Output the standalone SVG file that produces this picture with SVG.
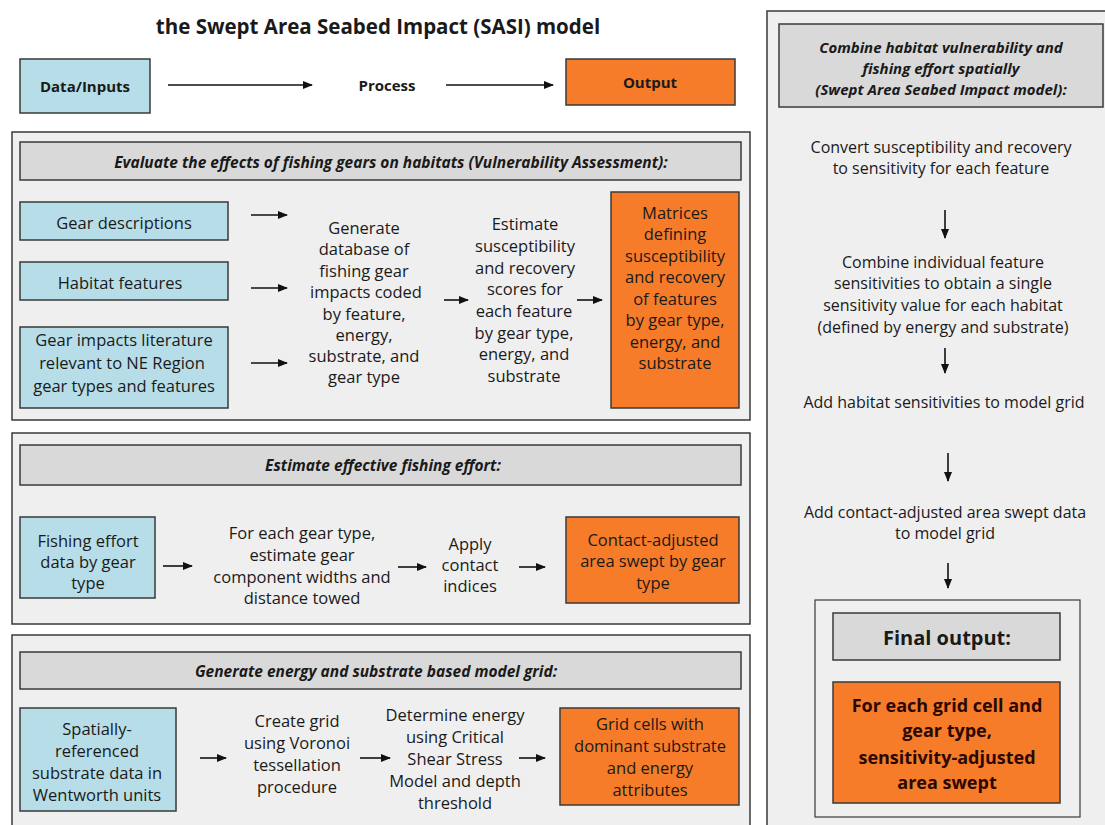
<svg xmlns="http://www.w3.org/2000/svg" width="1105" height="825" viewBox="0 0 1105 825">
<style>
text{font-family:"Open Sans","Liberation Sans",sans-serif;fill:#1a1a1a;text-anchor:middle;dominant-baseline:central}
.t{font-size:16.5px}
.r{font-size:16px}
.h{font-size:15.5px;font-weight:700;font-style:italic}
.b{font-weight:700}
.f{font-size:18px;font-weight:700;fill:#2a0800}
.panel{fill:#efefef;stroke:#3a3a3a;stroke-width:1.5}
.hdr{fill:#d9d9d9;stroke:#3a3a3a;stroke-width:1.5}
.in{fill:#b7dee8;stroke:#3a3a3a;stroke-width:1.5}
.out{fill:#f67c2a;stroke:#3a3a3a;stroke-width:1.5}
.frame{fill:#efefef;stroke:#3a3a3a;stroke-width:1.2}
.a{stroke:#111;stroke-width:1.6;fill:none;marker-end:url(#ah)}
</style>
<defs>
<marker id="ah" markerUnits="userSpaceOnUse" markerWidth="10" markerHeight="8" refX="9" refY="4" orient="auto">
<path d="M0,0 L10,4 L0,8 Z" fill="#111"/>
</marker>
</defs>
<rect width="1105" height="825" fill="#fff"/>

<text id="title" x="378" y="26" class="b" style="font-size:20.5px">the Swept Area Seabed Impact (SASI) model</text>

<g id="legend-data"><rect class="in" x="20" y="59" width="130" height="54"/><text x="85" y="86" class="b" style="font-size:15px">Data/Inputs</text></g>
<g id="legend-process"><text x="387" y="85" class="b" style="font-size:15px">Process</text></g>
<g id="legend-output"><rect class="out" x="566" y="59" width="169" height="46"/><text x="650" y="82" class="b" style="font-size:15px">Output</text></g>

<!-- Section 1 -->
<g id="section1"><rect class="panel" x="12" y="132" width="738" height="288"/>
<rect class="hdr" x="20" y="142" width="721" height="38"/>
<text x="391" y="162" class="h">Evaluate the effects of fishing gears on habitats (Vulnerability Assessment):</text></g>
<g id="gear-desc"><rect class="in" x="20" y="202" width="208" height="38"/><text x="124" y="222" class="t">Gear descriptions</text></g>
<g id="habitat-feat"><rect class="in" x="20" y="262" width="208" height="38"/><text x="120" y="282" class="t">Habitat features</text></g>
<g id="gear-lit"><rect class="in" x="20" y="327" width="208" height="81"/>
<text x="124" y="339" class="t">Gear impacts literature</text>
<text x="122" y="362" class="t">relevant to NE Region</text>
<text x="124" y="385" class="t">gear types and features</text></g>
<g id="gen-db">
<text x="364" y="227" class="t">Generate</text>
<text x="364" y="248" class="t">database of</text>
<text x="364" y="270" class="t">fishing gear</text>
<text x="366" y="291" class="t">impacts coded</text>
<text x="364" y="313" class="t">by feature,</text>
<text x="364" y="334" class="t">energy,</text>
<text x="364" y="355" class="t">substrate, and</text>
<text x="364" y="376" class="t">gear type</text></g>
<g id="est-scores">
<text x="525" y="223" class="t">Estimate</text>
<text x="525" y="245" class="t">susceptibility</text>
<text x="525" y="267" class="t">and recovery</text>
<text x="525" y="288" class="t">scores for</text>
<text x="524" y="310" class="t">each feature</text>
<text x="524" y="332" class="t">by gear type,</text>
<text x="524" y="353" class="t">energy, and</text>
<text x="524" y="375" class="t">substrate</text></g>
<g id="matrices"><rect class="out" x="611" y="192" width="128" height="216"/>
<text x="675" y="212" class="t">Matrices</text>
<text x="675" y="233" class="t">defining</text>
<text x="675" y="255" class="t">susceptibility</text>
<text x="675" y="276" class="t">and recovery</text>
<text x="675" y="298" class="t">of features</text>
<text x="675" y="319" class="t">by gear type,</text>
<text x="675" y="341" class="t">energy, and</text>
<text x="675" y="362" class="t">substrate</text></g>

<!-- Section 2 -->
<g id="section2"><rect class="panel" x="12" y="433" width="738" height="191"/>
<rect class="hdr" x="20" y="445" width="721" height="40"/>
<text x="383" y="465" class="h">Estimate effective fishing effort:</text></g>
<g id="effort-data"><rect class="in" x="20" y="517" width="135" height="81"/>
<text x="88" y="540" class="t">Fishing effort</text>
<text x="88" y="561" class="t">data by gear</text>
<text x="88" y="582" class="t">type</text></g>
<g id="est-widths">
<text x="302" y="532" class="t">For each gear type,</text>
<text x="302" y="554" class="t">estimate gear</text>
<text x="302" y="576" class="t">component widths and</text>
<text x="302" y="597" class="t">distance towed</text></g>
<g id="apply-contact">
<text x="470" y="543" class="t">Apply</text>
<text x="470" y="564" class="t">contact</text>
<text x="470" y="585" class="t">indices</text></g>
<g id="contact-swept"><rect class="out" x="566" y="517" width="173" height="86"/>
<text x="653" y="539" class="t">Contact-adjusted</text>
<text x="653" y="560" class="t">area swept by gear</text>
<text x="653" y="582" class="t">type</text></g>

<!-- Section 3 -->
<g id="section3"><rect class="panel" x="12" y="635" width="738" height="200"/>
<rect class="hdr" x="20" y="652" width="721" height="37"/>
<text x="376" y="671" class="h">Generate energy and substrate based model grid:</text></g>
<g id="substrate-data"><rect class="in" x="20" y="708" width="156" height="103"/>
<text x="97" y="728" class="t">Spatially-</text>
<text x="97" y="750" class="t">referenced</text>
<text x="97" y="772" class="t">substrate data in</text>
<text x="97" y="794" class="t">Wentworth units</text></g>
<g id="create-grid">
<text x="297" y="720" class="t">Create grid</text>
<text x="297" y="742" class="t">using Voronoi</text>
<text x="297" y="764" class="t">tessellation</text>
<text x="297" y="786" class="t">procedure</text></g>
<g id="det-energy">
<text x="455" y="714" class="t">Determine energy</text>
<text x="455" y="736" class="t">using Critical</text>
<text x="455" y="758" class="t">Shear Stress</text>
<text x="455" y="780" class="t">Model and depth</text>
<text x="455" y="802" class="t">threshold</text></g>
<g id="grid-cells"><rect class="out" x="560" y="708" width="179" height="97"/>
<text x="650" y="723" class="t">Grid cells with</text>
<text x="650" y="745" class="t">dominant substrate</text>
<text x="650" y="767" class="t">and energy</text>
<text x="650" y="789" class="t">attributes</text></g>

<!-- Right panel -->
<g id="sasi-panel"><rect class="panel" x="767" y="11" width="350" height="830"/>
<rect class="hdr" x="779" y="24" width="324" height="83"/>
<text x="941" y="47" class="h" style="font-size:15px">Combine habitat vulnerability and</text>
<text x="941" y="68" class="h" style="font-size:15px">fishing effort spatially</text>
<text x="941" y="89" class="h" style="font-size:15px">(Swept Area Seabed Impact model):</text></g>
<g id="convert">
<text x="941" y="147" class="r">Convert susceptibility and recovery</text>
<text x="941" y="168" class="r">to sensitivity for each feature</text></g>
<g id="combine">
<text x="943" y="262" class="r">Combine individual feature</text>
<text x="943" y="283" class="r">sensitivities to obtain a single</text>
<text x="943" y="305" class="r">sensitivity value for each habitat</text>
<text x="943" y="327" class="r">(defined by energy and substrate)</text></g>
<g id="add-hab"><text x="944" y="402" class="r">Add habitat sensitivities to model grid</text></g>
<g id="add-contact">
<text x="945" y="512" class="r">Add contact-adjusted area swept data</text>
<text x="945" y="533" class="r">to model grid</text></g>
<g id="final"><rect class="frame" x="815" y="600" width="265" height="217"/>
<rect class="hdr" x="833" y="613" width="227" height="47"/>
<text x="947" y="637" class="b" style="font-size:20px">Final output:</text>
<rect class="out" x="833" y="682" width="227" height="121"/>
<text x="947" y="705" class="f">For each grid cell and</text>
<text x="947" y="730" class="f">gear type,</text>
<text x="947" y="757" class="f">sensitivity-adjusted</text>
<text x="947" y="782" class="f">area swept</text></g>

<g id="connectors">
<line class="a" x1="168" y1="85" x2="312" y2="85"/>
<line class="a" x1="446" y1="85" x2="553" y2="85"/>
<line class="a" x1="251" y1="215" x2="287" y2="215"/>
<line class="a" x1="251" y1="288" x2="287" y2="288"/>
<line class="a" x1="251" y1="363" x2="287" y2="363"/>
<line class="a" x1="444" y1="300" x2="468" y2="300"/>
<line class="a" x1="577" y1="300" x2="602" y2="300"/>
<line class="a" x1="163" y1="566" x2="192" y2="566"/>
<line class="a" x1="398" y1="567" x2="426" y2="567"/>
<line class="a" x1="519" y1="567" x2="545" y2="567"/>
<line class="a" x1="200" y1="758" x2="226" y2="758"/>
<line class="a" x1="360" y1="758" x2="390" y2="758"/>
<line class="a" x1="519" y1="758" x2="545" y2="758"/>
<line class="a" x1="945" y1="210" x2="945" y2="238"/>
<line class="a" x1="945" y1="348" x2="945" y2="373"/>
<line class="a" x1="948" y1="453" x2="948" y2="481"/>
<line class="a" x1="948" y1="563" x2="948" y2="588"/>
</g>
</svg>
